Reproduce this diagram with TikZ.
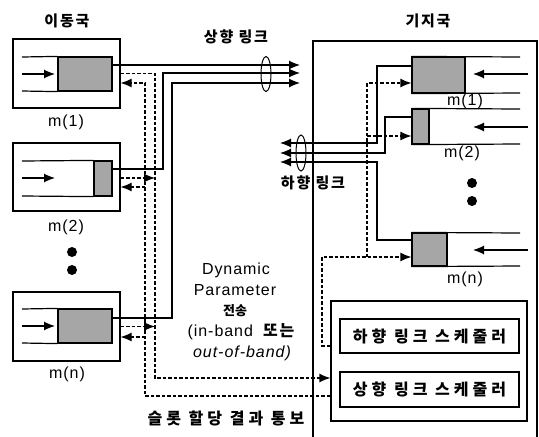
\documentclass[tikz,border=0pt]{standalone}
\usepackage{fontspec}
\setmainfont{Liberation Sans}[LetterSpace=6]
\newfontfamily\krm[LetterSpace=12]{Noto Sans CJK KR}
\newfontfamily\krw[LetterSpace=25]{Noto Sans CJK KR}
\newfontfamily\krn{Noto Sans CJK KR}
\usetikzlibrary{arrows.meta,shapes.geometric}
\begin{document}
\begin{tikzpicture}[x=1pt,y=-1pt,
  ln/.style={line width=1.2pt},
  dl/.style={line width=1.2pt, dash pattern=on 3.5pt off 2pt},
  tip/.style={-{Latex[length=11pt,width=9pt]}},
  frame/.style={draw, line width=1.2pt, inner sep=0pt, rectangle},
  blk/.style={draw, line width=1.2pt, inner sep=0pt, fill=black!35, rectangle},
  lat/.style={font=\fontsize{16}{18}\selectfont, inner sep=0pt},
  kor/.style={font=\fontsize{15}{18}\selectfont\krm\bfseries, inner sep=0pt},
  korw/.style={font=\fontsize{16}{18}\selectfont\krw\bfseries, inner sep=0pt},
  dot/.style={circle, fill=black, inner sep=0pt, minimum size=10pt}
]
\useasboundingbox (0,0) rectangle (539,437);

% ---------- headings ----------
\node[kor] (hmob) at (67,21) {이동국};
\node[kor] (hbs) at (428,21) {기지국};
\node[kor] (hul) at (236,37) {상향 링크};
\node[kor] (hdl) at (313,183) {하향 링크};

% ---------- mobile stations ----------
\node[frame, minimum width=107pt, minimum height=69pt] (mo1) at (66.5,73.5) {};
\node[frame, minimum width=107pt, minimum height=68pt] (mo2) at (66.5,177) {};
\node[frame, minimum width=107pt, minimum height=69pt] (mon) at (66.5,326.5) {};

\node[blk, minimum width=54pt, minimum height=34pt] (s1) at (85,74) {};
\node[blk, minimum width=18pt, minimum height=35pt] (s2) at (103,178.5) {};
\node[blk, minimum width=54pt, minimum height=34pt] (sn) at (85,326) {};

\draw[ln] (22,57) -- (s1.north west) (22,91) -- (s1.south west);
\draw[ln] (22,161) -- (s2.north west) (22,196) -- (s2.south west);
\draw[ln] (22,309) -- (sn.north west) (22,343) -- (sn.south west);
\coordinate (qa1) at (22,74);
\coordinate (qa2) at (22,178);
\coordinate (qan) at (22,326);
\draw[ln,tip] (qa1) -- ++(33,0);
\draw[ln,tip] (qa2) -- ++(33,0);
\draw[ln,tip] (qan) -- ++(33,0);

\node[lat] (lm1) at (66,122) {m(1)};
\node[lat] (lm2) at (66,227) {m(2)};
\node[lat] (lmn) at (67,374) {m(n)};
\node[dot] (d1) at (72,252) {};
\node[dot] (d2) at (72,270) {};

% ---------- base station ----------
\draw[ln] (313,437) -- (313,41) -- (537,41) -- (537,437);

\node[blk, minimum width=53pt, minimum height=36pt] (b1) at (438.5,75) {};
\node[blk, minimum width=17pt, minimum height=35pt] (b2) at (420.5,126.5) {};
\node[blk, minimum width=35pt, minimum height=33pt] (bn) at (429.5,249.5) {};

\draw[ln] (b1.north west) -- (520,57) (b1.south west) -- (520,93);
\draw[ln] (b2.north west) -- (520,109) (b2.south west) -- (520,144);
\draw[ln] (bn.north west) -- (520,233) (bn.south west) -- (520,266);
\coordinate (ra1) at (528,74);
\coordinate (ra2) at (528,127);
\coordinate (ran) at (528,250);
\draw[ln,tip] (ra1) -- ++(-55,0);
\draw[ln,tip] (ra2) -- ++(-55,0);
\draw[ln,tip] (ran) -- ++(-55,0);

\node[lat] (rm1) at (465,101) {m(1)};
\node[lat] (rm2) at (462,153) {m(2)};
\node[lat] (rmn) at (465,279) {m(n)};
\node[dot] (d3) at (472,183) {};
\node[dot] (d4) at (472,201) {};

% schedulers
\node[frame, minimum width=196pt, minimum height=120pt] (sch) at (429,361) {};
\node[frame, minimum width=179pt, minimum height=34pt, korw] (dls) at (429.5,336) {하향 링크 스케줄러};
\node[frame, minimum width=179pt, minimum height=35pt, korw] (uls) at (429.5,389.5) {상향 링크 스케줄러};

% ---------- uplink solid lines ----------
\coordinate (ua1) at (300,65);
\coordinate (ua2) at (300,73);
\coordinate (ua3) at (300,83);
\draw[ln,tip] ([yshift=9pt]s1.east) -- (ua1);
\draw[ln,tip] ([yshift=9.5pt]s2.east) -- (163,169) -- (163,73) -- (ua2);
\draw[ln,tip] ([yshift=8pt]sn.east) -- (172,318) -- (172,83) -- (ua3);
\node[draw, ellipse, line width=1pt, minimum width=10pt, minimum height=35pt, inner sep=0pt] (e1) at (266,74) {};

% ---------- uplink dashed (parameters) ----------
\draw[dl,tip] (mo1.east) -- (155,73.5) -- (155,378) -- ([yshift=-17pt]sch.west);
\draw[dl,tip] ([yshift=-1pt]mo2.east) -- (155,178);
\draw[dl,tip] (mon.east) -- (155,326.5);

% ---------- slot allocation result ----------
\draw[dl,tip] ([yshift=-35pt]sch.west) -- (145,396) -- (145,83) -- ([yshift=-9.5pt]mo1.east);
\draw[dl,tip] (145,187) -- ([yshift=-10pt]mo2.east);
\draw[dl,tip] (145,337) -- ([yshift=-10.5pt]mon.east);

% ---------- downlink solid lines ----------
\coordinate (da1) at (280,143);
\coordinate (da2) at (280,153);
\coordinate (da3) at (280,162);
\draw[ln,tip] ([yshift=9pt]b1.west) -- (377,66) -- (377,143) -- (da1);
\draw[ln,tip] ([yshift=9.5pt]b2.west) -- (385,117) -- (385,153) -- (da2);
\draw[ln,tip] ([yshift=9.5pt]bn.west) -- (377,240) -- (377,162) -- (da3);
\node[draw, ellipse, line width=1pt, minimum width=10pt, minimum height=36pt, inner sep=0pt] (e2) at (301,153) {};

% ---------- downlink dashed ----------
\draw[dl,tip] ([yshift=15pt]sch.west) -- (322,346) -- (322,257) -- ([yshift=-7.5pt]bn.west);
\draw[dl,tip] (367,257) -- (367,83) -- ([yshift=-8pt]b1.west);
\draw[dl,tip] (367,136) -- ([yshift=-9.5pt]b2.west);

% ---------- middle texts ----------
\node[lat] (t1) at (236,270) {Dynamic};
\node[lat] (t2) at (235,290) {Parameter};
\node[inner sep=0pt, font=\fontsize{13}{15}\selectfont\krn\bfseries] (t3) at (235,311) {전송};
\node[lat] (t4) at (241,332) {(in-band\hspace{10pt}{\krm\bfseries 또는}};
\node[lat, font=\fontsize{16}{18}\selectfont\itshape] (t5) at (242,353) {out-of-band)};
\node[korw] (t6) at (226,418) {슬롯 할당 결과 통보};
\end{tikzpicture}
\end{document}
